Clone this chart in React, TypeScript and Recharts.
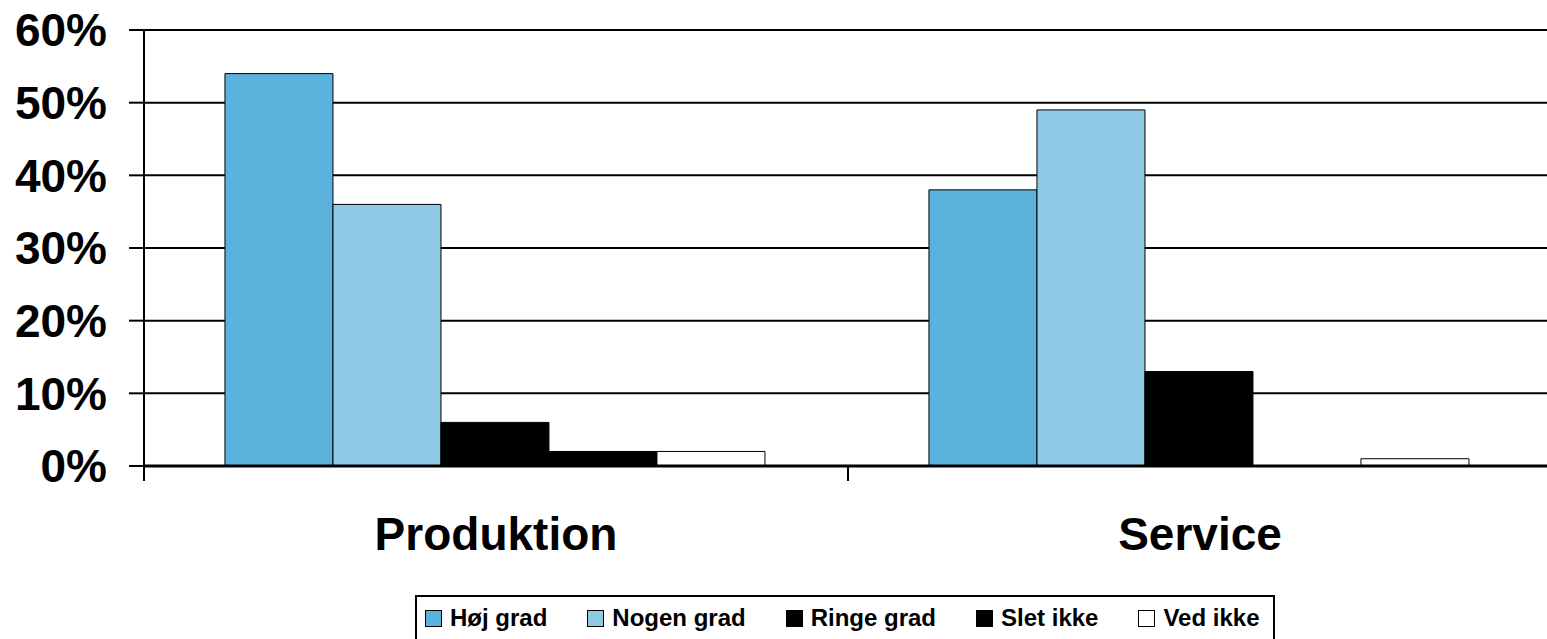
import { Bar, BarChart, CartesianGrid, Legend, XAxis, YAxis } from "recharts";

const categories = ["Produktion", "Service"];
const hojGrad = [54, 38];
const nogenGrad = [36, 49];
const ringeGrad = [6, 13];
const sletIkke = [2, 0];
const vedIkke = [2, 1];
const yTicks = [0, 10, 20, 30, 40, 50, 60];
// positions of the category boundaries on the hidden number axis
const edgeTicks = [0, 1, 2];

const series = [
  { key: "hoj", name: "Høj grad", color: "#5bb2dd" },
  { key: "nogen", name: "Nogen grad", color: "#8ecae6" },
  { key: "ringe", name: "Ringe grad", color: "#000000" },
  { key: "slet", name: "Slet ikke", color: "#000000" },
  { key: "ved", name: "Ved ikke", color: "#ffffff" },
];

const data = categories.map((name, i) => ({
  name,
  pos: i + 0.5,
  hoj: hojGrad[i],
  nogen: nogenGrad[i],
  ringe: ringeGrad[i],
  slet: sletIkke[i],
  ved: vedIkke[i],
}));

const FONT = "Arial, 'Liberation Sans', sans-serif";

function LegendBox() {
  return (
    <div
      style={{
        boxSizing: "border-box",
        height: 46,
        border: "2px solid #000",
        background: "#fff",
        display: "flex",
        alignItems: "center",
        paddingLeft: 8,
        fontFamily: FONT,
        fontWeight: "bold",
        fontSize: 24,
        lineHeight: 1,
        color: "#000",
        gap: 40,
      }}
    >
      {series.map((s) => (
        <div key={s.key} style={{ display: "flex", alignItems: "center" }}>
          <span
            style={{
              display: "inline-block",
              boxSizing: "border-box",
              width: 17,
              height: 17,
              border: "1.5px solid #000",
              background: s.color,
              marginRight: 8,
            }}
          />
          <span>{s.name}</span>
        </div>
      ))}
    </div>
  );
}

export default function App() {
  return (
    <div
      style={{
        position: "absolute",
        left: 0,
        top: 0,
        width: 1547,
        height: 639,
        overflow: "hidden",
        background: "#fff",
      }}
    >
      <BarChart
        width={1552}
        height={639}
        data={data}
        margin={{ top: 30, right: 0, left: 0, bottom: 0 }}
        barCategoryGap="11.5%"
        barGap={0}
      >
        <CartesianGrid vertical={false} stroke="#000" strokeWidth={2} xAxisId="bcat" />
        <XAxis
          xAxisId="aedges"
          dataKey="pos"
          type="number"
          domain={[0, 2]}
          ticks={edgeTicks}
          interval={0}
          allowDataOverflow
          height={1}
          tickFormatter={() => ""}
          tickSize={15}
          tickLine={{ stroke: "#000", strokeWidth: 2 }}
          axisLine={{ stroke: "#000", strokeWidth: 3 }}
        />
        <XAxis
          xAxisId="bcat"
          dataKey="name"
          height={126}
          axisLine={false}
          tickLine={false}
          tickSize={0}
          tickMargin={50}
          tick={{ fill: "#000", fontSize: 46, fontWeight: "bold", fontFamily: FONT }}
        />
        <YAxis
          width={144}
          domain={[0, 60]}
          ticks={yTicks}
          interval={0}
          tickFormatter={(v) => `${v}%`}
          tickSize={15}
          tickMargin={22}
          tickLine={{ stroke: "#000", strokeWidth: 2 }}
          axisLine={{ stroke: "#000", strokeWidth: 2 }}
          tick={{ fill: "#000", fontSize: 46, fontWeight: "bold", fontFamily: FONT }}
        />
        <Legend
          verticalAlign="bottom"
          content={() => <LegendBox />}
          wrapperStyle={{ left: 415, width: 860, bottom: -2 }}
        />
        {series.map((s) => (
          <Bar
            key={s.key}
            xAxisId="bcat"
            dataKey={s.key}
            name={s.name}
            fill={s.color}
            stroke="#000"
            strokeWidth={1}
            isAnimationActive={false}
          />
        ))}
      </BarChart>
    </div>
  );
}
